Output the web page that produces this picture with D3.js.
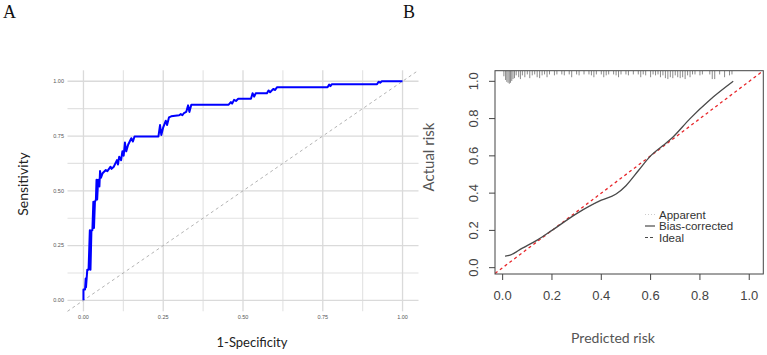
<!DOCTYPE html>
<html>
<head>
<meta charset="utf-8">
<script src="https://cdn.jsdelivr.net/npm/d3@7"></script>
<style>
  body { margin: 0; background: #fff; }
  svg { display: block; }
</style>
</head>
<body>
<div id="chart"></div>
<script>
// ---- panel A : ROC curve ----
const rocFpr = [0, 0, 0.005, 0.007, 0.008, 0.012, 0.016, 0.020, 0.022, 0.025, 0.028, 0.031, 0.033, 0.036, 0.039, 0.041, 0.043, 0.046, 0.050, 0.052, 0.055, 0.060, 0.070, 0.075, 0.080, 0.085, 0.088, 0.095, 0.100, 0.105, 0.108, 0.112, 0.118, 0.122, 0.126, 0.130, 0.134, 0.140, 0.150, 0.155, 0.160, 0.235, 0.240, 0.244, 0.250, 0.258, 0.262, 0.268, 0.275, 0.300, 0.305, 0.310, 0.315, 0.322, 0.328, 0.332, 0.338, 0.455, 0.462, 0.466, 0.472, 0.478, 0.485, 0.525, 0.530, 0.535, 0.540, 0.575, 0.580, 0.585, 0.595, 0.600, 0.607, 0.765, 0.770, 0.774, 0.778, 0.920, 0.925, 0.930, 0.935, 1.0];
const rocTpr = [0, 0.05, 0.05, 0.10, 0.06, 0.14, 0.14, 0.32, 0.14, 0.32, 0.32, 0.45, 0.33, 0.45, 0.46, 0.55, 0.46, 0.55, 0.52, 0.59, 0.56, 0.58, 0.595, 0.59, 0.60, 0.61, 0.60, 0.61, 0.625, 0.64, 0.62, 0.655, 0.64, 0.68, 0.66, 0.72, 0.68, 0.71, 0.74, 0.725, 0.748, 0.748, 0.80, 0.755, 0.79, 0.82, 0.80, 0.835, 0.84, 0.845, 0.85, 0.845, 0.855, 0.86, 0.89, 0.86, 0.893, 0.893, 0.905, 0.898, 0.915, 0.91, 0.92, 0.92, 0.945, 0.93, 0.945, 0.945, 0.958, 0.95, 0.965, 0.96, 0.973, 0.973, 0.985, 0.978, 0.986, 0.986, 0.998, 0.993, 1.0, 1.0];
const rocMajorTicks = [0, 0.25, 0.5, 0.75, 1];
const rocMinorTicks = [0.125, 0.375, 0.625, 0.875];
const rocTickLabels = ['0.00', '0.25', '0.50', '0.75', '1.00'];

// ---- panel B : calibration curve ----
const calPred = [0.01, 0.03, 0.08, 0.14, 0.20, 0.30, 0.40, 0.46, 0.50, 0.55, 0.60, 0.65, 0.69, 0.76, 0.84, 0.935];
const calBias = [0.062, 0.067, 0.105, 0.148, 0.20, 0.29, 0.362, 0.395, 0.44, 0.52, 0.60, 0.655, 0.70, 0.80, 0.90, 1.0];
const calApparent = [0.060, 0.066, 0.104, 0.147, 0.199, 0.289, 0.361, 0.394, 0.44, 0.52, 0.60, 0.654, 0.699, 0.799, 0.899, 0.999];
const calTicks = [0, 0.2, 0.4, 0.6, 0.8, 1.0];
const calTickLabels = ['0.0', '0.2', '0.4', '0.6', '0.8', '1.0'];
const rugX = [0.005, 0.012, 0.017, 0.022, 0.027, 0.032, 0.037, 0.042, 0.048, 0.055, 0.065, 0.072, 0.08, 0.09, 0.10, 0.11, 0.12, 0.13, 0.14, 0.15, 0.16, 0.17, 0.18, 0.19, 0.21, 0.22, 0.24, 0.25, 0.27, 0.28, 0.30, 0.31, 0.33, 0.35, 0.36, 0.37, 0.38, 0.40, 0.41, 0.42, 0.43, 0.45, 0.46, 0.47, 0.48, 0.50, 0.51, 0.53, 0.55, 0.56, 0.57, 0.58, 0.60, 0.61, 0.62, 0.63, 0.64, 0.65, 0.66, 0.67, 0.68, 0.69, 0.70, 0.71, 0.72, 0.73, 0.74, 0.75, 0.76, 0.77, 0.78, 0.80, 0.81, 0.84, 0.85, 0.86, 0.88, 0.90, 0.92, 0.93];
const rugH = [0.03, 0.05, 0.06, 0.065, 0.07, 0.065, 0.055, 0.045, 0.04, 0.025, 0.035, 0.045, 0.025, 0.035, 0.02, 0.04, 0.025, 0.02, 0.035, 0.04, 0.025, 0.02, 0.035, 0.02, 0.025, 0.02, 0.02, 0.025, 0.02, 0.035, 0.02, 0.025, 0.02, 0.02, 0.025, 0.035, 0.02, 0.02, 0.035, 0.025, 0.02, 0.02, 0.025, 0.035, 0.02, 0.02, 0.025, 0.02, 0.02, 0.035, 0.02, 0.025, 0.035, 0.02, 0.025, 0.02, 0.035, 0.025, 0.04, 0.045, 0.035, 0.04, 0.025, 0.035, 0.04, 0.035, 0.045, 0.025, 0.035, 0.02, 0.02, 0.025, 0.02, 0.02, 0.045, 0.045, 0.02, 0.035, 0.025, 0.02];
const legendItems = ['Apparent', 'Bias-corrected', 'Ideal'];

const width = 767;
const height = 355;

const svg = d3.select('#chart').append('svg')
  .attr('width', width)
  .attr('height', height);

// panel letters
svg.append('text').attr('x', 3).attr('y', 18).text('A')
  .attr('font-family', 'Liberation Serif').attr('font-size', 18).attr('fill', '#111');
svg.append('text').attr('x', 403).attr('y', 18).text('B')
  .attr('font-family', 'Liberation Serif').attr('font-size', 18).attr('fill', '#111');

// ================= panel A =================
const xA = d3.scaleLinear().domain([-0.05, 1.05]).range([67.5, 418.5]);
const yA = d3.scaleLinear().domain([-0.05, 1.05]).range([311.3, 70.3]);

const gA = svg.append('g');

// minor grid
gA.selectAll('.vminor').data(rocMinorTicks).enter().append('line')
  .attr('x1', d => xA(d)).attr('x2', d => xA(d))
  .attr('y1', yA.range()[0]).attr('y2', yA.range()[1])
  .attr('stroke', '#e2e2e2').attr('stroke-width', 1.1);
gA.selectAll('.hminor').data(rocMinorTicks).enter().append('line')
  .attr('y1', d => yA(d)).attr('y2', d => yA(d))
  .attr('x1', xA.range()[0]).attr('x2', xA.range()[1])
  .attr('stroke', '#e2e2e2').attr('stroke-width', 1.1);
// major grid
gA.selectAll('.vmajor').data(rocMajorTicks).enter().append('line')
  .attr('x1', d => xA(d)).attr('x2', d => xA(d))
  .attr('y1', yA.range()[0]).attr('y2', yA.range()[1])
  .attr('stroke', '#dadada').attr('stroke-width', 1.3);
gA.selectAll('.hmajor').data(rocMajorTicks).enter().append('line')
  .attr('y1', d => yA(d)).attr('y2', d => yA(d))
  .attr('x1', xA.range()[0]).attr('x2', xA.range()[1])
  .attr('stroke', '#dadada').attr('stroke-width', 1.3);

// reference diagonal
gA.append('line')
  .attr('x1', xA(-0.05)).attr('y1', yA(-0.05))
  .attr('x2', xA(1.05)).attr('y2', yA(1.05))
  .attr('stroke', '#aaa').attr('stroke-width', 0.9)
  .attr('stroke-dasharray', '3,3');

// ROC line
const rocPts = rocFpr.map((f, i) => [f, rocTpr[i]]);
gA.append('path')
  .datum(rocPts)
  .attr('fill', 'none')
  .attr('stroke', '#0000ff')
  .attr('stroke-width', 2)
  .attr('stroke-linejoin', 'round')
  .attr('d', d3.line().x(d => xA(d[0])).y(d => yA(d[1])));

// tick labels
gA.selectAll('.ylab').data(rocMajorTicks).enter().append('text')
  .attr('x', 64).attr('y', d => yA(d)).attr('dy', '0.35em')
  .attr('text-anchor', 'end')
  .attr('font-family', 'Liberation Sans').attr('font-size', 5.5).attr('fill', '#555')
  .text((d, i) => rocTickLabels[i]);
gA.selectAll('.xlab').data(rocMajorTicks).enter().append('text')
  .attr('x', d => xA(d)).attr('y', 318.5)
  .attr('text-anchor', 'middle')
  .attr('font-family', 'Liberation Sans').attr('font-size', 5.5).attr('fill', '#555')
  .text((d, i) => rocTickLabels[i]);

// axis titles
gA.append('text')
  .attr('transform', 'translate(28,184) rotate(-90)')
  .attr('text-anchor', 'middle')
  .attr('font-family', 'Lato').attr('font-size', 14).attr('fill', '#222')
  .text('Sensitivity');
gA.append('text')
  .attr('x', 252).attr('y', 347)
  .attr('text-anchor', 'middle')
  .attr('font-family', 'Lato').attr('font-size', 13).attr('fill', '#222')
  .text('1-Specificity');

// ================= panel B =================
const xB = d3.scaleLinear().domain([-0.031, 1.057]).range([495, 763.3]);
const yB = d3.scaleLinear().domain([-0.034, 1.057]).range([274, 70.7]);
const gB = svg.append('g');

// clip so lines stay in the box
svg.append('clipPath').attr('id', 'boxB').append('rect')
  .attr('x', 495).attr('y', 70.7).attr('width', 268.3).attr('height', 203.3);

const plotB = gB.append('g').attr('clip-path', 'url(#boxB)');

// spike histogram along the top
plotB.selectAll('.rug').data(rugX).enter().append('line')
  .attr('x1', d => xB(d)).attr('x2', d => xB(d))
  .attr('y1', yB(1.057))
  .attr('y2', (d, i) => yB(1.057 - rugH[i]))
  .attr('stroke', '#8a8a8a').attr('stroke-width', 1);

// ideal line
plotB.append('line')
  .attr('x1', xB(-0.05)).attr('y1', yB(-0.05))
  .attr('x2', xB(1.1)).attr('y2', yB(1.1))
  .attr('stroke', '#e8262a').attr('stroke-width', 1.3)
  .attr('stroke-dasharray', '3,3');

const calLine = d3.line().x(d => xB(d[0])).y(d => yB(d[1])).curve(d3.curveMonotoneX);

plotB.append('path')
  .datum(calPred.map((p, i) => [p, calApparent[i]]))
  .attr('fill', 'none').attr('stroke', '#ccc').attr('stroke-width', 1)
  .attr('stroke-dasharray', '1,2')
  .attr('d', calLine);

plotB.append('path')
  .datum(calPred.map((p, i) => [p, calBias[i]]))
  .attr('fill', 'none').attr('stroke', '#4a4a4a').attr('stroke-width', 1.3)
  .attr('d', calLine);

// box
gB.append('rect')
  .attr('x', 495).attr('y', 70.7).attr('width', 268.3).attr('height', 203.3)
  .attr('fill', 'none').attr('stroke', '#444').attr('stroke-width', 1);

// x axis ticks
gB.selectAll('.xt').data(calTicks).enter().append('line')
  .attr('x1', d => xB(d)).attr('x2', d => xB(d))
  .attr('y1', 274).attr('y2', 280)
  .attr('stroke', '#444');
gB.selectAll('.xtl').data(calTicks).enter().append('text')
  .attr('x', d => xB(d)).attr('y', 299.5)
  .attr('text-anchor', 'middle')
  .attr('font-family', 'Liberation Sans').attr('font-size', 13).attr('fill', '#444')
  .text((d, i) => calTickLabels[i]);

// y axis ticks
gB.selectAll('.yt').data(calTicks).enter().append('line')
  .attr('y1', d => yB(d)).attr('y2', d => yB(d))
  .attr('x1', 495).attr('x2', 489)
  .attr('stroke', '#444');
gB.selectAll('.ytl').data(calTicks).enter().append('text')
  .attr('transform', d => `translate(478,${yB(d)}) rotate(-90)`)
  .attr('text-anchor', 'middle')
  .attr('font-family', 'Liberation Sans').attr('font-size', 13).attr('fill', '#444')
  .text((d, i) => calTickLabels[i]);

// axis titles
gB.append('text')
  .attr('transform', 'translate(434,157) rotate(-90)')
  .attr('text-anchor', 'middle')
  .attr('font-family', 'Lato').attr('font-size', 15).attr('fill', '#555')
  .text('Actual risk');
gB.append('text')
  .attr('x', 613).attr('y', 343)
  .attr('text-anchor', 'middle')
  .attr('font-family', 'Lato').attr('font-size', 14).attr('fill', '#555')
  .text('Predicted risk');

// legend
const legendY = [214.5, 226, 237.5];
const legendStyle = [
  { stroke: '#ccc', dash: '1,2' },
  { stroke: '#4a4a4a', dash: null },
  { stroke: '#4a4a4a', dash: '3,2' }
];
const leg = gB.selectAll('.leg').data(legendItems).enter().append('g')
  .attr('transform', (d, i) => `translate(645,${legendY[i]})`);
leg.append('line')
  .attr('x1', 0).attr('x2', 10).attr('y1', 0).attr('y2', 0)
  .attr('stroke', (d, i) => legendStyle[i].stroke)
  .attr('stroke-width', 1.2)
  .attr('stroke-dasharray', (d, i) => legendStyle[i].dash);
leg.append('text')
  .attr('x', 14).attr('dy', '0.35em')
  .attr('font-family', 'Liberation Sans').attr('font-size', 11.5).attr('fill', '#333')
  .text(d => d);
</script>
</body>
</html>
